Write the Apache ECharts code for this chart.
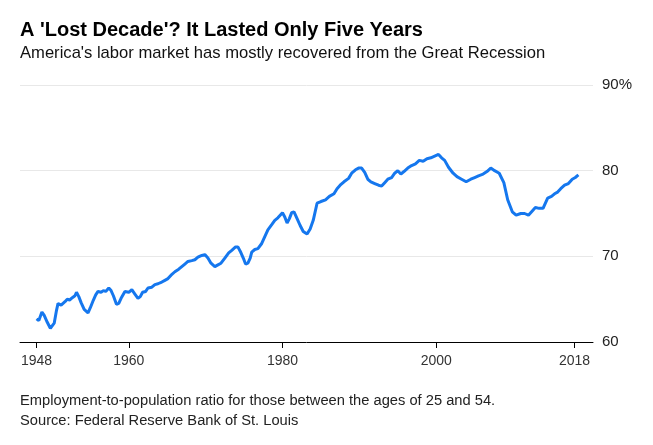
<!DOCTYPE html>
<html>
<head>
<meta charset="utf-8">
<script src="https://cdn.jsdelivr.net/npm/echarts@6/dist/echarts.min.js"></script>
<style>
html,body{margin:0;padding:0;background:#fff;}
#c{width:653px;height:445px;}
</style>
</head>
<body>
<div id="c"></div>
<script>
// Employment-to-population ratio, ages 25-54
var years = [
1948.0,1948.3,1948.7,1949.0,1949.4,1949.8,1950.0,1950.3,1950.6,1950.8,
1951.2,1951.7,1952.0,1952.3,1952.7,1953.0,1953.2,1953.5,1953.8,1954.2,
1954.7,1955.0,1955.4,1955.7,1956.0,1956.4,1956.7,1957.0,1957.4,1957.7,
1958.0,1958.4,1958.7,1959.0,1959.5,1960.0,1960.4,1960.8,1961.2,1961.5,
1961.8,1962.2,1962.5,1963.0,1963.4,1963.8,1964.3,1964.7,1965.1,1965.5,
1966.0,1966.5,1966.9,1967.3,1967.7,1968.2,1968.6,1969.0,1969.5,1969.9,
1970.3,1970.7,1971.2,1971.6,1972.0,1972.5,1973.0,1973.4,1973.9,1974.2,
1974.5,1974.9,1975.2,1975.5,1975.8,1976.0,1976.4,1976.8,1977.3,1977.7,
1978.1,1978.6,1979.0,1979.4,1979.7,1980.0,1980.3,1980.6,1980.9,1981.2,
1981.5,1981.9,1982.3,1982.7,1983.2,1983.6,1984.0,1984.5,1985.0,1985.6,
1986.1,1986.7,1987.1,1987.5,1988.0,1988.6,1989.0,1989.5,1989.9,1990.3,
1990.7,1991.1,1991.5,1992.0,1992.5,1992.9,1993.3,1993.7,1994.2,1994.6,
1995.0,1995.4,1995.8,1996.3,1996.8,1997.3,1997.8,1998.3,1998.8,1999.3,
1999.8,2000.3,2000.7,2001.1,2001.6,2002.2,2002.7,2003.3,2003.9,2004.5,
2005.0,2005.5,2006.1,2006.6,2007.1,2007.6,2008.2,2008.8,2009.3,2009.9,
2010.4,2011.0,2011.5,2012.0,2012.5,2012.9,2013.4,2013.9,2014.5,2015.0,
2015.4,2015.8,2016.2,2016.7,2017.2,2017.7,2018.1,2018.5
];
var ratio = [
62.7,62.5,63.5,63.1,62.3,61.6,61.4,62.2,63.7,64.5,
64.3,64.7,65.0,64.9,65.2,65.4,65.8,65.3,64.6,63.8,
63.4,64.0,64.9,65.5,65.9,65.8,66.0,65.9,66.3,66.0,
65.4,64.4,64.5,65.1,65.9,65.8,66.1,65.6,65.1,65.3,
65.8,65.9,66.3,66.4,66.7,66.8,67.0,67.2,67.4,67.8,
68.2,68.5,68.8,69.1,69.4,69.5,69.6,69.9,70.1,70.2,
69.8,69.2,68.8,69.0,69.2,69.8,70.4,70.7,71.1,71.1,
70.6,69.8,69.1,69.2,69.8,70.5,70.8,70.9,71.5,72.3,
73.1,73.7,74.2,74.5,74.8,75.1,74.6,73.9,74.4,75.1,
75.2,74.4,73.6,72.9,72.6,73.2,74.2,76.2,76.4,76.6,
77.0,77.3,77.9,78.3,78.7,79.1,79.7,80.1,80.3,80.3,
79.8,79.0,78.7,78.5,78.3,78.2,78.6,79.0,79.2,79.7,
80.0,79.6,79.9,80.3,80.6,80.8,81.2,81.1,81.4,81.5,
81.7,81.9,81.5,81.2,80.4,79.7,79.3,79.0,78.7,79.0,
79.2,79.4,79.6,79.9,80.3,80.0,79.7,78.6,76.6,75.2,
74.8,75.0,75.0,74.8,75.3,75.7,75.6,75.6,76.8,77.0,
77.3,77.5,77.9,78.3,78.5,79.0,79.2,79.5
];
var xTicks = [1948, 1960, 1980, 2000, 2018];
var yTicks = [60, 70, 80, 90];
var titleText = "A 'Lost Decade'? It Lasted Only Five Years";
var subtitleText = "America's labor market has mostly recovered from the Great Recession";
var noteText = "Employment-to-population ratio for those between the ages of 25 and 54.";
var sourceText = "Source: Federal Reserve Bank of St. Louis";

var seriesData = years.map(function (y, i) { return [y, ratio[i]]; });
var font = '"Liberation Sans", Arial, sans-serif';

var chart = echarts.init(document.getElementById('c'), null, {renderer: 'canvas'});
chart.setOption({
  animation: false,
  backgroundColor: '#fff',
  grid: {left: 20, right: 60, top: 85, bottom: 103},
  graphic: [
    {type: 'text', left: 20, top: 20, style: {text: titleText, font: 'bold 20px ' + font, fill: '#000'}},
    {type: 'text', left: 20, top: 45, style: {text: subtitleText, font: '16.6px ' + font, fill: '#111'}},
    {type: 'text', left: 20, top: 393, style: {text: noteText, font: '14.7px ' + font, fill: '#222'}},
    {type: 'text', left: 20, top: 413, style: {text: sourceText, font: '14.7px ' + font, fill: '#222'}}
  ],
  xAxis: {
    type: 'value',
    min: 1945.85,
    max: 2020.4,
    axisLine: {show: true, lineStyle: {color: '#000', width: 1}},
    axisTick: {show: true, customValues: xTicks, length: 6, inside: false, lineStyle: {color: '#000'}},
    axisLabel: {
      customValues: xTicks, color: '#333', fontSize: 14, fontFamily: font, margin: 12,
      formatter: function (v) { return String(Math.round(v)); }
    },
    splitLine: {show: false}
  },
  yAxis: {
    type: 'value',
    position: 'right',
    min: 60,
    max: 90,
    interval: 10,
    axisLine: {show: false},
    axisTick: {show: false},
    axisLabel: {
      color: '#222', fontSize: 15, fontFamily: font, margin: 9,
      formatter: function (v) { return v === 90 ? '90%' : String(v); }
    },
    splitLine: {show: true, lineStyle: {color: '#e8e8e8', width: 1}}
  },
  series: [{
    type: 'line',
    data: seriesData,
    showSymbol: false,
    lineStyle: {color: '#1577ee', width: 3},
    itemStyle: {color: '#1577ee'}
  }]
});
</script>
</body>
</html>
